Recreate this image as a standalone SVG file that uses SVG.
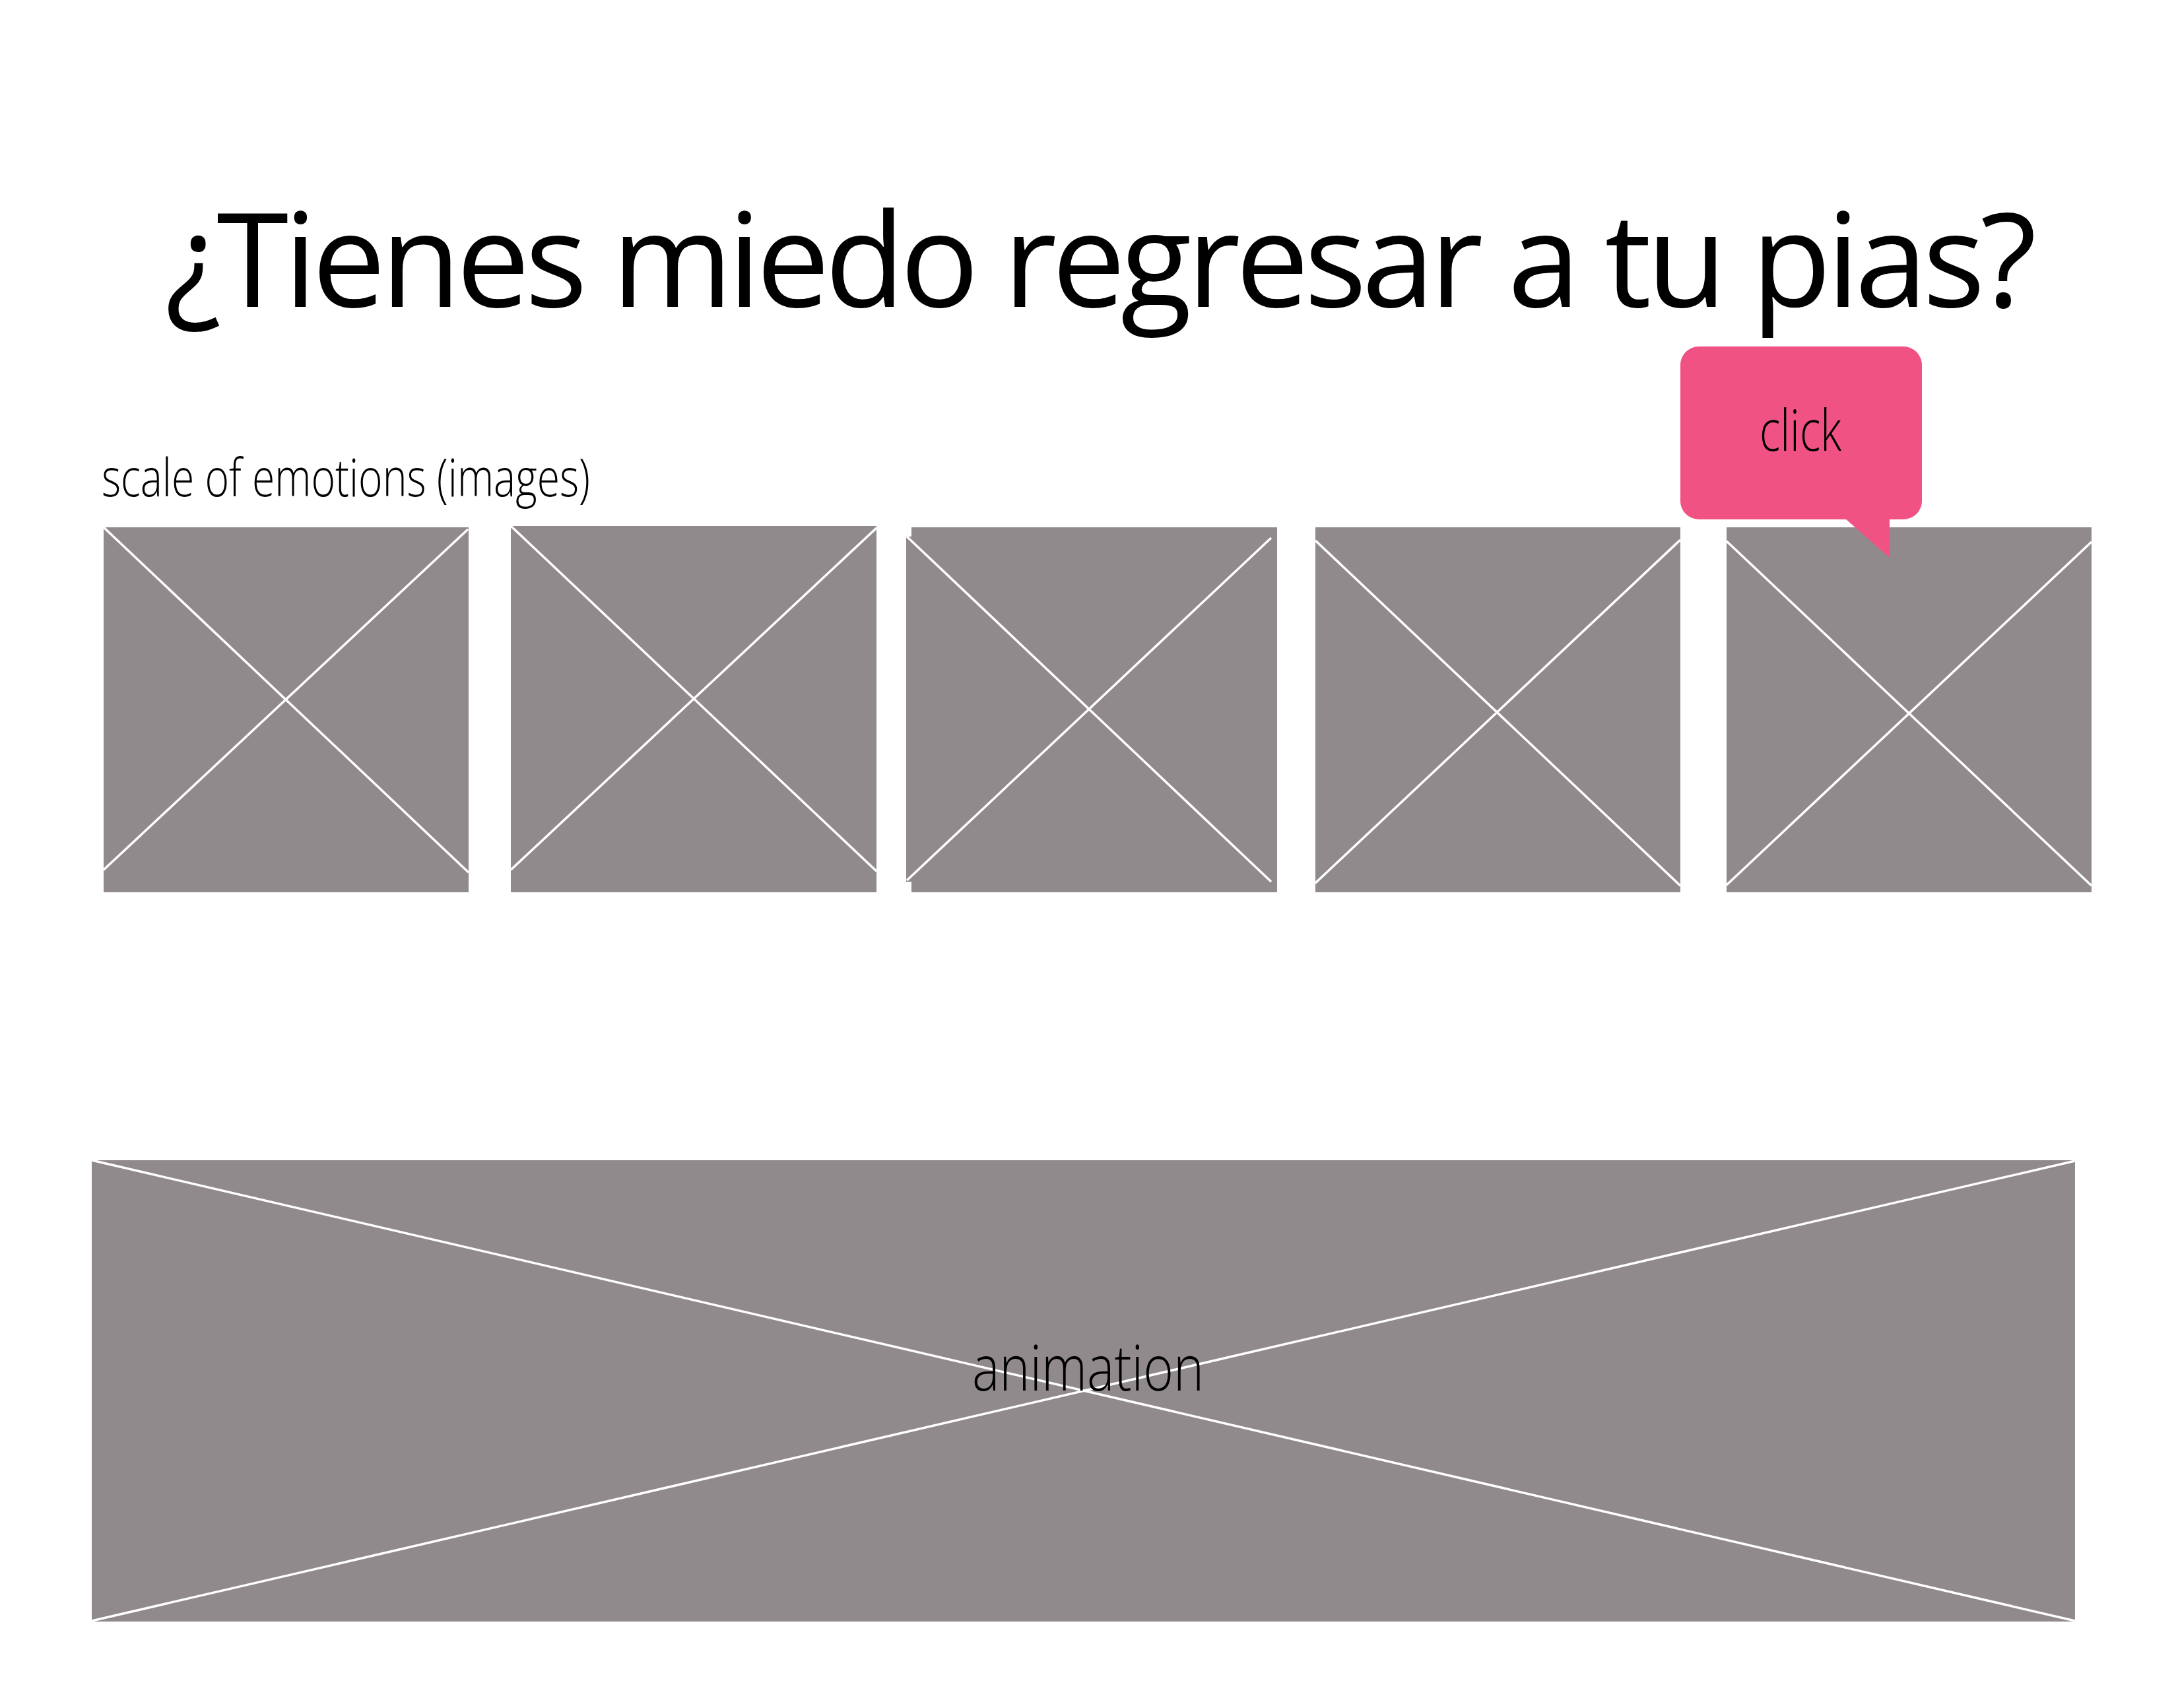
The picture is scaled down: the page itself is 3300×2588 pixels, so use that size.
<svg xmlns="http://www.w3.org/2000/svg" width="3300" height="2588" viewBox="0 0 3300 2588">
<style>
.ph{fill:#918A8C}
.x{stroke:#FFFFFF;stroke-width:3.5;fill:none}
.title{font-family:"Open Sans","Liberation Sans",sans-serif;font-size:198px;fill:#000}
.hand{font-family:"Open Sans","Liberation Sans",sans-serif;fill:#000;font-weight:300}
</style>
<rect width="3300" height="2588" fill="#FFFFFF"/>
<g id="title">
<text class="title" x="250" y="465" textLength="2836" lengthAdjust="spacing">¿Tienes miedo regresar a tu pias?</text>
</g>
<g id="label-scale">
<text class="hand" x="154" y="752" font-size="80" textLength="740" lengthAdjust="spacingAndGlyphs">scale of emotions (images)</text>
</g>
<g id="image-1">
<rect class="ph" x="157" y="799" width="553" height="553"/>
<line class="x" x1="157" y1="799" x2="710" y2="1322"/>
<line class="x" x1="709" y1="802" x2="157" y2="1318"/>
</g>
<g id="image-2">
<rect class="ph" x="774" y="797" width="554" height="555"/>
<line class="x" x1="774" y1="797" x2="1328" y2="1320"/>
<line class="x" x1="1328" y1="800" x2="774" y2="1318"/>
</g>
<g id="image-3">
<rect class="ph" x="1381" y="799" width="554" height="553"/>
<rect class="ph" x="1373" y="813" width="10" height="523"/>
<line class="x" x1="1374" y1="813" x2="1926" y2="1336"/>
<line class="x" x1="1926" y1="815" x2="1374" y2="1334"/>
</g>
<g id="image-4">
<rect class="ph" x="1993" y="799" width="553" height="553"/>
<line class="x" x1="1993" y1="819" x2="2546" y2="1342"/>
<line class="x" x1="2546" y1="818" x2="1993" y2="1338"/>
</g>
<g id="image-5">
<rect class="ph" x="2616" y="799" width="553" height="553"/>
<line class="x" x1="2616" y1="820" x2="3169" y2="1342"/>
<line class="x" x1="3169" y1="821" x2="2616" y2="1341"/>
</g>
<g id="click-bubble">
<rect x="2546" y="525" width="366" height="262" rx="28" ry="28" fill="#F05383"/>
<polygon points="2796,786 2863,786 2863,845" fill="#F05383"/>
<text class="hand" x="2728" y="683" font-size="86" text-anchor="middle" textLength="124" lengthAdjust="spacingAndGlyphs">click</text>
</g>
<g id="animation">
<rect class="ph" x="139" y="1758" width="3005" height="699"/>
<line class="x" x1="139" y1="1758" x2="3144" y2="2456"/>
<line class="x" x1="3144" y1="1759" x2="139" y2="2456"/>
<text class="hand" x="1473" y="2107" font-size="96" textLength="351" lengthAdjust="spacingAndGlyphs">animation</text>
</g>
<g id="connectors"></g>
</svg>
